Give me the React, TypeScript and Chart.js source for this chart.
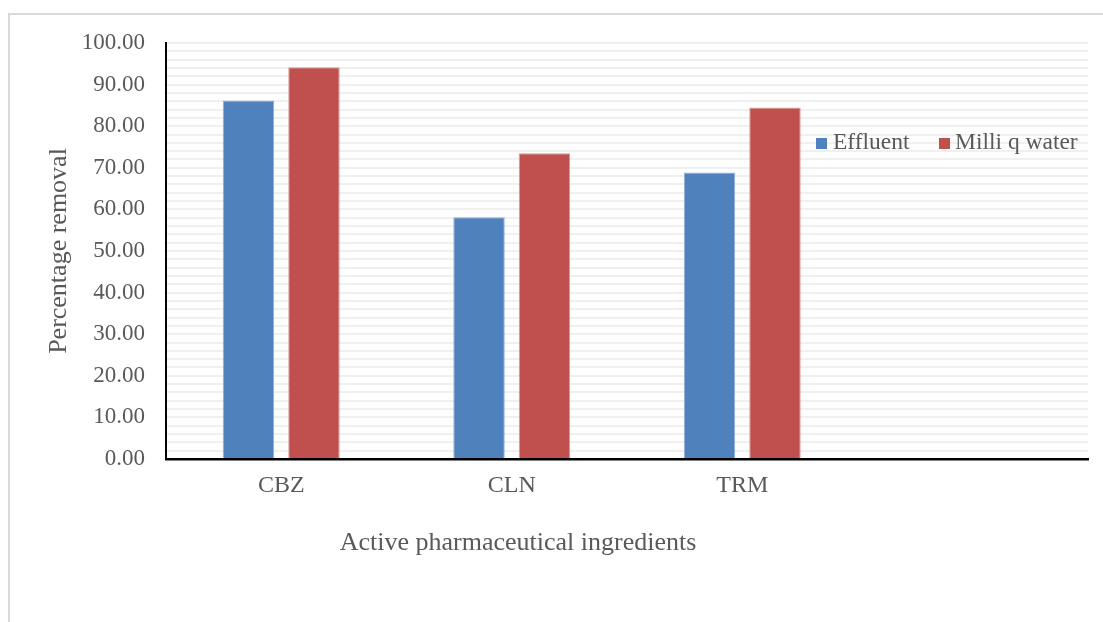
import React, { useEffect, useRef } from "react";
import { Chart, registerables } from "chart.js";

Chart.register(...registerables);

const categories = ["CBZ", "CLN", "TRM", ""];
const effluent = [86.2, 58.1, 68.9, null];
const milliQWater = [94.2, 73.5, 84.5, null];
const seriesNames = ["Effluent", "Milli q water"];
const seriesColors = ["#4f81bd", "#c0504d"];
const seriesBorders = ["#8fb0da", "#da9795"];
const yTitle = "Percentage removal";
const xTitle = "Active pharmaceutical ingredients";

const FONT = "'Liberation Serif', 'Times New Roman', serif";
const TEXT = "#595959";

const overlayPlugin = {
  id: "overlay",
  afterDraw(chart: any) {
    const ctx = chart.ctx;
    ctx.save();
    // x axis title
    ctx.fillStyle = TEXT;
    ctx.font = `26px ${FONT}`;
    ctx.textAlign = "center";
    ctx.textBaseline = "middle";
    ctx.fillText(xTitle, 518, 543);
    // legend
    ctx.font = `23.5px ${FONT}`;
    ctx.textAlign = "left";
    const items = [
      { sq: 816, tx: 833 },
      { sq: 939, tx: 955 },
    ];
    items.forEach((it, i) => {
      ctx.fillStyle = seriesColors[i];
      ctx.fillRect(it.sq, 138, 11, 11);
      ctx.fillStyle = TEXT;
      ctx.fillText(seriesNames[i], it.tx, 143);
    });
    ctx.restore();
  },
};

export default function App() {
  const ref = useRef<HTMLCanvasElement>(null);
  useEffect(() => {
    if (!ref.current) return;
    const chart = new Chart(ref.current, {
      type: "bar",
      data: {
        labels: categories,
        datasets: [
          {
            label: seriesNames[0],
            data: effluent as any,
            backgroundColor: seriesColors[0],
            borderColor: seriesBorders[0],
            borderWidth: 1,
            categoryPercentage: 0.568,
            barPercentage: 0.786,
          },
          {
            label: seriesNames[1],
            data: milliQWater as any,
            backgroundColor: seriesColors[1],
            borderColor: seriesBorders[1],
            borderWidth: 1,
            categoryPercentage: 0.568,
            barPercentage: 0.786,
          },
        ],
      },
      options: {
        animation: false,
        responsive: true,
        maintainAspectRatio: false,
        layout: { padding: { left: 0, top: 43, right: 15, bottom: 0 } },
        plugins: {
          legend: { display: false },
          tooltip: { enabled: false },
        },
        scales: {
          x: {
            grid: { display: false, drawTicks: false },
            border: { display: true, color: "#000000", width: 2.5 },
            ticks: {
              color: TEXT,
              font: { family: FONT, size: 24 },
              padding: 12,
            },
            afterFit: (s: any) => {
              s.height = 163;
            },
          },
          y: {
            min: 0,
            max: 100,
            grid: { color: "#f0f0f0", lineWidth: 2, drawTicks: false },
            border: { display: true, color: "#000000", width: 2 },
            ticks: {
              stepSize: 2,
              autoSkip: false,
              color: TEXT,
              font: { family: FONT, size: 23 },
              padding: 21,
              callback: (v: any) => (Number(v) % 10 === 0 ? Number(v).toFixed(2) : ""),
            },
            title: {
              display: true,
              text: yTitle,
              color: TEXT,
              font: { family: FONT, size: 26 },
              padding: { top: 44, bottom: 0 },
            },
            afterFit: (s: any) => {
              s.width = 166;
            },
          },
        },
      },
      plugins: [overlayPlugin],
    });
    return () => chart.destroy();
  }, []);

  return (
    <>
      <div
        style={{
          position: "fixed",
          left: 8,
          top: 13,
          width: 1100,
          height: 615,
          borderTop: "2px solid #d9d9d9",
          borderLeft: "2px solid #d9d9d9",
          pointerEvents: "none",
        }}
      />
      <div style={{ position: "fixed", left: 0, top: 0, width: 1103, height: 622 }}>
        <canvas ref={ref} />
      </div>
    </>
  );
}
